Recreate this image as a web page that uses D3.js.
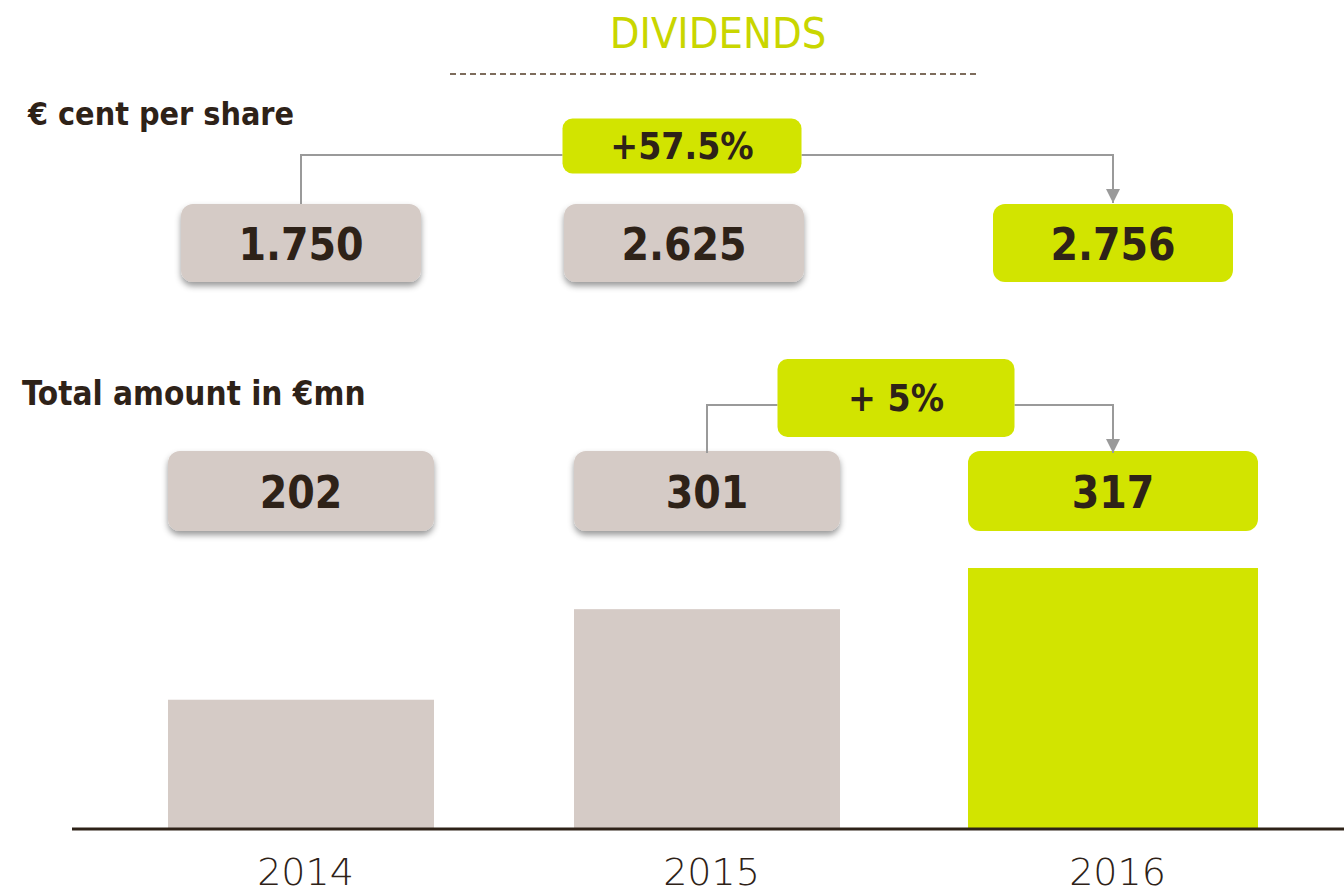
<!DOCTYPE html>
<html>
<head>
<meta charset="utf-8">
<script src="https://cdn.jsdelivr.net/npm/d3@7"></script>
<style>
  body { margin: 0; background: #fff; }
  text { font-family: "DejaVu Sans Condensed", "DejaVu Sans", sans-serif; font-stretch: condensed; }
</style>
</head>
<body>
<div id="chart"></div>
<script>
var width = 1344, height = 894;

// data
var years = ["2014", "2015", "2016"];
var perShare = ["1.750", "2.625", "2.756"];
var totals = ["202", "301", "317"];
// bar heights as the slide draws them (not to scale with the labels), €mn
var barDrawn = [157, 267, 317];
var highlight = "2016";
var growthPerShare = "+57.5%";
var growthTotal = "+ 5%";

var grey = "#d5cbc6", lime = "#d2e400", ink = "#2e2218", line = "#9a9a9a";

var svg = d3.select("#chart").append("svg")
  .attr("width", width)
  .attr("height", height);

var defs = svg.append("defs");
var shadow = defs.append("filter").attr("id", "shadow")
  .attr("x", "-10%").attr("y", "-10%").attr("width", "120%").attr("height", "140%");
shadow.append("feDropShadow")
  .attr("dx", 0).attr("dy", 4).attr("stdDeviation", 3)
  .attr("flood-color", "#000").attr("flood-opacity", 0.4);

defs.append("marker")
  .attr("id", "arrow")
  .attr("viewBox", "0 0 10 10")
  .attr("refX", 10).attr("refY", 5)
  .attr("markerWidth", 16).attr("markerHeight", 14)
  .attr("markerUnits", "userSpaceOnUse")
  .attr("orient", "auto")
  .append("path")
  .attr("d", "M0,0L10,5L0,10Z")
  .attr("fill", line);

// title
svg.append("text")
  .attr("x", 718).attr("y", 48)
  .attr("text-anchor", "middle")
  .style("font-size", "43px")
  .attr("fill", "#c9d600")
  .text("DIVIDENDS");

svg.append("line")
  .attr("x1", 450).attr("x2", 978)
  .attr("y1", 74).attr("y2", 74)
  .attr("stroke", "#7d6c5c")
  .attr("stroke-width", 2)
  .attr("stroke-dasharray", "6,4");

// scales
var baseY = 829;
var x = d3.scalePoint()
  .domain(years)
  .range([98, 1316])
  .padding(0.5);

var y = d3.scaleLinear()
  .domain([0, d3.max(barDrawn)])
  .range([baseY, 568]);

function boxW(d, base) { return d === highlight ? base + 24 : base; }

// section labels
svg.append("text")
  .attr("x", 28).attr("y", 125)
  .style("font-size", "32px").style("font-weight", "bold")
  .attr("fill", ink)
  .text("€ cent per share");

svg.append("text")
  .attr("x", 22).attr("y", 405)
  .style("font-size", "33px").style("font-weight", "bold")
  .attr("fill", ink)
  .text("Total amount in €mn");

// value boxes
function drawBoxes(values, top, h, w, shift) {
  var g = svg.append("g");
  var cell = g.selectAll("g")
    .data(years)
    .join("g")
    .attr("transform", function(d, i) {
      return "translate(" + (x(d) + shift[i]) + "," + top + ")";
    });
  cell.append("rect")
    .attr("x", function(d) { return -w(d) / 2; })
    .attr("width", function(d) { return w(d); })
    .attr("height", h)
    .attr("rx", 12)
    .attr("fill", function(d) { return d === highlight ? lime : grey; })
    .attr("filter", function(d) { return d === highlight ? null : "url(#shadow)"; });
  cell.append("text")
    .attr("y", h / 2 + 17)
    .attr("text-anchor", "middle")
    .style("font-size", "44px").style("font-weight", "bold")
    .attr("fill", ink)
    .text(function(d, i) { return values[i]; });
  return cell;
}

drawBoxes(perShare, 204, 78, function() { return 240; }, [0, -23, 0]);
drawBoxes(totals, 451, 80, function(d) { return boxW(d, 266); }, [0, 0, 0]);

// growth badges with connectors
function badge(label, from, to, cx, cy, w, h, lineY, topFrom, topTo) {
  var x0 = x(from), x1 = x(to);
  svg.append("path")
    .attr("d", "M" + x0 + "," + topFrom + "V" + lineY + "H" + (cx - w / 2))
    .attr("fill", "none").attr("stroke", line).attr("stroke-width", 2);
  svg.append("path")
    .attr("d", "M" + (cx + w / 2) + "," + lineY + "H" + x1 + "V" + topTo)
    .attr("fill", "none").attr("stroke", line).attr("stroke-width", 2)
    .attr("marker-end", "url(#arrow)");
  svg.append("rect")
    .attr("x", cx - w / 2).attr("y", cy - h / 2)
    .attr("width", w).attr("height", h)
    .attr("rx", 10)
    .attr("fill", lime);
  svg.append("text")
    .attr("x", cx).attr("y", cy + 13)
    .attr("text-anchor", "middle")
    .style("font-size", "37px").style("font-weight", "bold")
    .attr("fill", ink)
    .text(label);
}

badge(growthPerShare, "2014", "2016", 682, 146, 239, 55, 155, 204, 203);
badge(growthTotal, "2015", "2016", 896, 398, 237, 78, 405, 453, 453);

// bars
svg.append("g")
  .selectAll("rect")
  .data(years)
  .join("rect")
  .attr("x", function(d) { return x(d) - boxW(d, 266) / 2; })
  .attr("width", function(d) { return boxW(d, 266); })
  .attr("y", function(d, i) { return y(barDrawn[i]); })
  .attr("height", function(d, i) { return baseY - y(barDrawn[i]); })
  .attr("fill", function(d) { return d === highlight ? lime : grey; });

svg.append("line")
  .attr("x1", 72).attr("x2", width)
  .attr("y1", baseY).attr("y2", baseY)
  .attr("stroke", ink)
  .attr("stroke-width", 3);

var xAxis = d3.axisBottom(x).tickSize(0).tickPadding(0);
var ax = svg.append("g")
  .attr("transform", "translate(4," + (baseY + 56) + ")")
  .call(xAxis);
ax.select(".domain").remove();
ax.selectAll("text")
  .attr("dy", 0)
  .style("font-size", "38px")
  .style("font-family", "'DejaVu Sans', sans-serif")
  .style("font-stretch", "normal")
  .style("font-weight", "200")
  .attr("fill", ink);
</script>
</body>
</html>
